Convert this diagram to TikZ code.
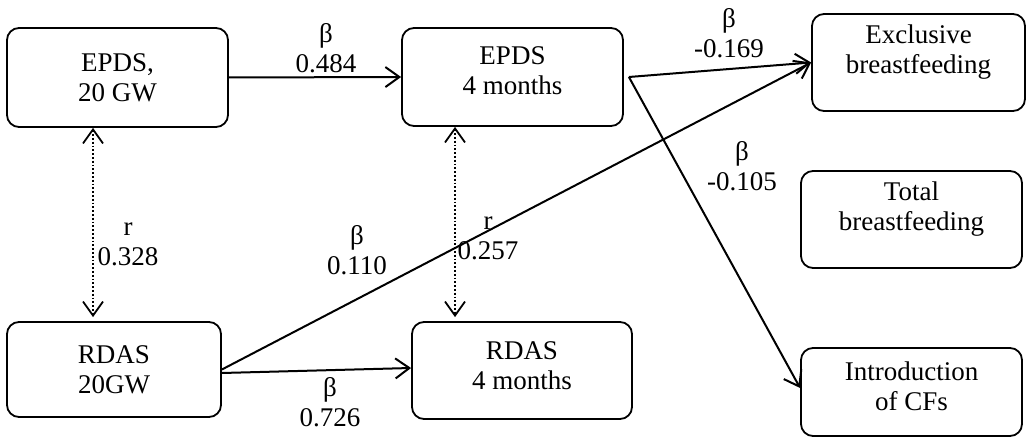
\documentclass[tikz,border=0pt]{standalone}
\usepackage{fontspec}
\setmainfont{Liberation Serif}
\usetikzlibrary{arrows.meta}

\begin{document}
\begin{tikzpicture}[x=0.5pt,y=-0.5pt,
  font=\fontsize{13.5}{15}\selectfont,
  box/.style={draw,line width=0.9pt,rounded corners=6pt,align=center,inner sep=0pt},
  num/.style={align=center,inner sep=0pt},
  >={Straight Barb[length=7pt,width=10pt]},
  eff/.style={->,line width=1pt},
  corr/.style={<->,densely dotted,line width=0.9pt}]
\useasboundingbox (0,0) rectangle (1027,438);

\node[box,minimum width=110.5pt,minimum height=49.5pt] (E20) at (117.5,77.5) {EPDS,\\20 GW};
\node[box,minimum width=110.5pt,minimum height=49pt,text depth=6pt] (E4) at (512.5,77) {EPDS\\4 months};
\node[box,minimum width=107pt,minimum height=47.5pt] (R20) at (114,369.5) {RDAS\\20GW};
\node[box,minimum width=110pt,minimum height=48.5pt,text depth=5pt] (R4) at (522,370.5) {RDAS\\4 months};
\node[box,minimum width=106.5pt,minimum height=48.5pt,text depth=13pt] (EBF) at (918.5,62.5) {Exclusive\\breastfeeding};
\node[box,minimum width=110.5pt,minimum height=48.5pt,text depth=13pt] (TBF) at (911.5,219.5) {Total\\breastfeeding};
\node[box,minimum width=110.5pt,minimum height=44pt,text depth=6pt] (CF) at (911.5,392) {Introduction\\of CFs};

\node[num] (b1) at (326,48) {β\\0.484};
\node[num] (b2) at (729,33) {β\\-0.169};
\node[num] (b3) at (742,166) {β\\-0.105};
\node[num] (r1) at (128,244) {r\\0.328};
\node[num] (b4) at (357,250) {β\\0.110};
\node[num] (r2) at (488,238) {r\\0.257};
\node[num] (b5) at (330,402) {β\\0.726};

\draw[eff] (E20.east) -- (E4.west);
\draw[eff] ([xshift=2.5pt]E4.east) -- (EBF.west);
\draw[eff] ([xshift=2.5pt]E4.east) -- ([yshift=2pt]CF.west);
\draw[eff] (R20.east) -- (EBF.west);
\draw[eff] ([yshift=-1.75pt]R20.east) -- ([yshift=1.25pt]R4.west);
\draw[corr] ([xshift=-12.25pt]E20.south) -- ([xshift=-10.5pt,yshift=2pt]R20.north);
\draw[corr] ([xshift=-28.75pt]E4.south) -- ([xshift=-33.5pt,yshift=2pt]R4.north);
\end{tikzpicture}
\end{document}
